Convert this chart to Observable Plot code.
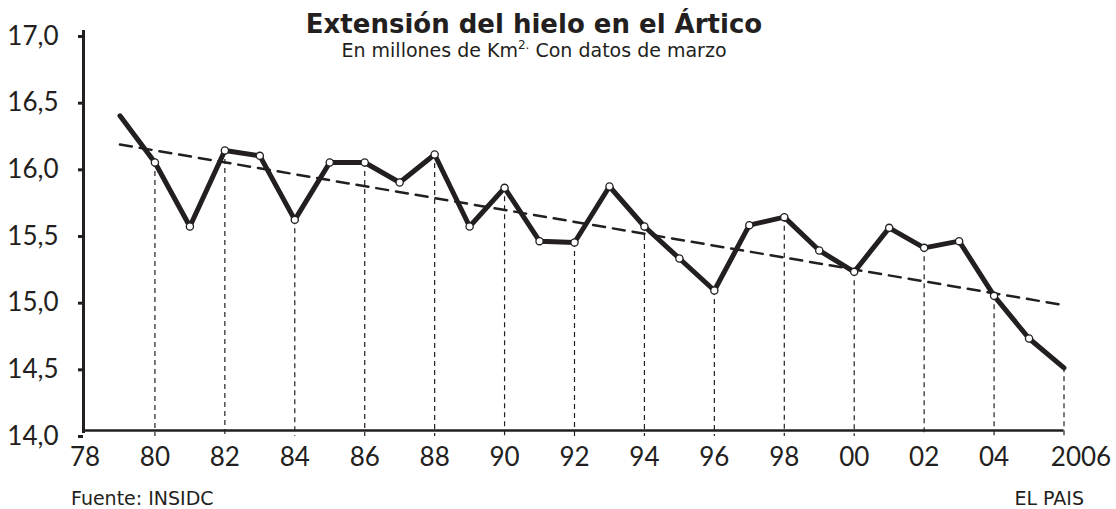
<!DOCTYPE html>
<html><head><meta charset="utf-8">
<script src="https://cdn.jsdelivr.net/npm/d3@7"></script>
<script src="https://cdn.jsdelivr.net/npm/@observablehq/plot@0.6"></script>
<style>
body{margin:0;background:#fff;font-family:"DejaVu Sans",sans-serif;color:#231f20}
#wrap{position:relative;width:1116px;height:509px;overflow:hidden}
#wrap svg{position:absolute;left:0;top:0}
.t{position:absolute;line-height:1;white-space:nowrap}
#title{left:0;width:1068px;top:11px;text-align:center;font-weight:bold;font-size:26px}
#subtitle{left:0;width:1068px;top:41px;text-align:center;font-size:19px}
#subtitle sup{font-size:12px;vertical-align:0;position:relative;top:-8px}
#source{left:71px;top:489px;font-size:19px}
#credit{right:32px;top:489px;font-size:19px}
</style></head><body>
<div id="wrap"></div>
<script>
const years = [1979,1980,1981,1982,1983,1984,1985,1986,1987,1988,1989,1990,1991,1992,1993,1994,1995,1996,1997,1998,1999,2000,2001,2002,2003,2004,2005,2006];
const extent = [16.36,16.01,15.53,16.10,16.06,15.58,16.01,16.01,15.86,16.07,15.53,15.82,15.42,15.41,15.83,15.53,15.29,15.05,15.54,15.60,15.35,15.19,15.52,15.37,15.42,15.01,14.69,14.47];
const trendYears = [1979, 2006];
const trendValues = [16.145, 14.94];
const xTicks = [1978,1980,1982,1984,1986,1988,1990,1992,1994,1996,1998,2000,2002,2004,2006];
const xTickLabels = ["78","80","82","84","86","88","90","92","94","96","98","00","02","04","2006"];
const yTicks = [14,14.5,15,15.5,16,16.5,17];
const yTickLabels = ["14,0","14,5","15,0","15,5","16,0","16,5","17,0"];

const data = years.map((y, i) => ({year: y, value: extent[i]}));
const trend = trendYears.map((y, i) => ({year: y, value: trendValues[i]}));
const evenYears = data.filter(d => d.year % 2 === 0);
const inner = data.filter(d => d.year > years[0] && d.year < years[years.length - 1]);
const ink = "#231f20";
const lastTick = xTicks[xTicks.length - 1];
const fmtX = d => xTickLabels[xTicks.indexOf(d)];

const chart = Plot.plot({
  width: 1116, height: 509,
  marginLeft: 84.5, marginRight: 52.5, marginTop: 30, marginBottom: 79,
  style: {fontFamily: "Lato, sans-serif", color: ink, background: "transparent"},
  x: {domain: [1978, 2006], label: null},
  y: {domain: [14, 17], label: null},
  marks: [
    Plot.ruleX(evenYears, {x: "year", y1: "value", y2: () => 14, stroke: ink, strokeWidth: 1.2, strokeDasharray: "5,4", insetBottom: -6}),
    Plot.line(trend, {x: "year", y: "value", stroke: ink, strokeWidth: 2.5, strokeDasharray: "12,8"}),
    Plot.line(data, {x: "year", y: "value", stroke: ink, strokeWidth: 5, strokeLinejoin: "miter"}),
    Plot.dot(inner, {x: "year", y: "value", r: 3.6, fill: "white", stroke: ink, strokeWidth: 1.3}),
    Plot.ruleY([14], {x1: 1978, x2: 2006, stroke: ink, strokeWidth: 2.5}),
    Plot.ruleX([1978], {y1: 17, y2: 14, stroke: ink, strokeWidth: 3, insetBottom: -3, dx: -1.5}),
    Plot.axisY({ticks: yTicks, tickFormat: d => yTickLabels[yTicks.indexOf(d)], tickSize: 5, tickPadding: 20, strokeWidth: 3, fontSize: 26, dy: 6, dx: -1.5, fill: ink, stroke: ink}),
    Plot.axisX({ticks: xTicks.slice(0, -1), tickFormat: fmtX, tickSize: 0, tickPadding: 17, fontSize: 26, fill: ink}),
    Plot.axisX({ticks: [lastTick], tickFormat: fmtX, tickSize: 0, tickPadding: 17, fontSize: 26, fill: ink, dx: 17})
  ]
});
const wrap = document.getElementById("wrap");
wrap.appendChild(chart);
wrap.insertAdjacentHTML("beforeend",
  '<div class="t" id="title">Extensión del hielo en el Ártico</div>' +
  '<div class="t" id="subtitle">En millones de Km<sup>2.</sup> Con datos de marzo</div>' +
  '<div class="t" id="source">Fuente: INSIDC</div>' +
  '<div class="t" id="credit">EL PAIS</div>');
</script>
</body></html>
